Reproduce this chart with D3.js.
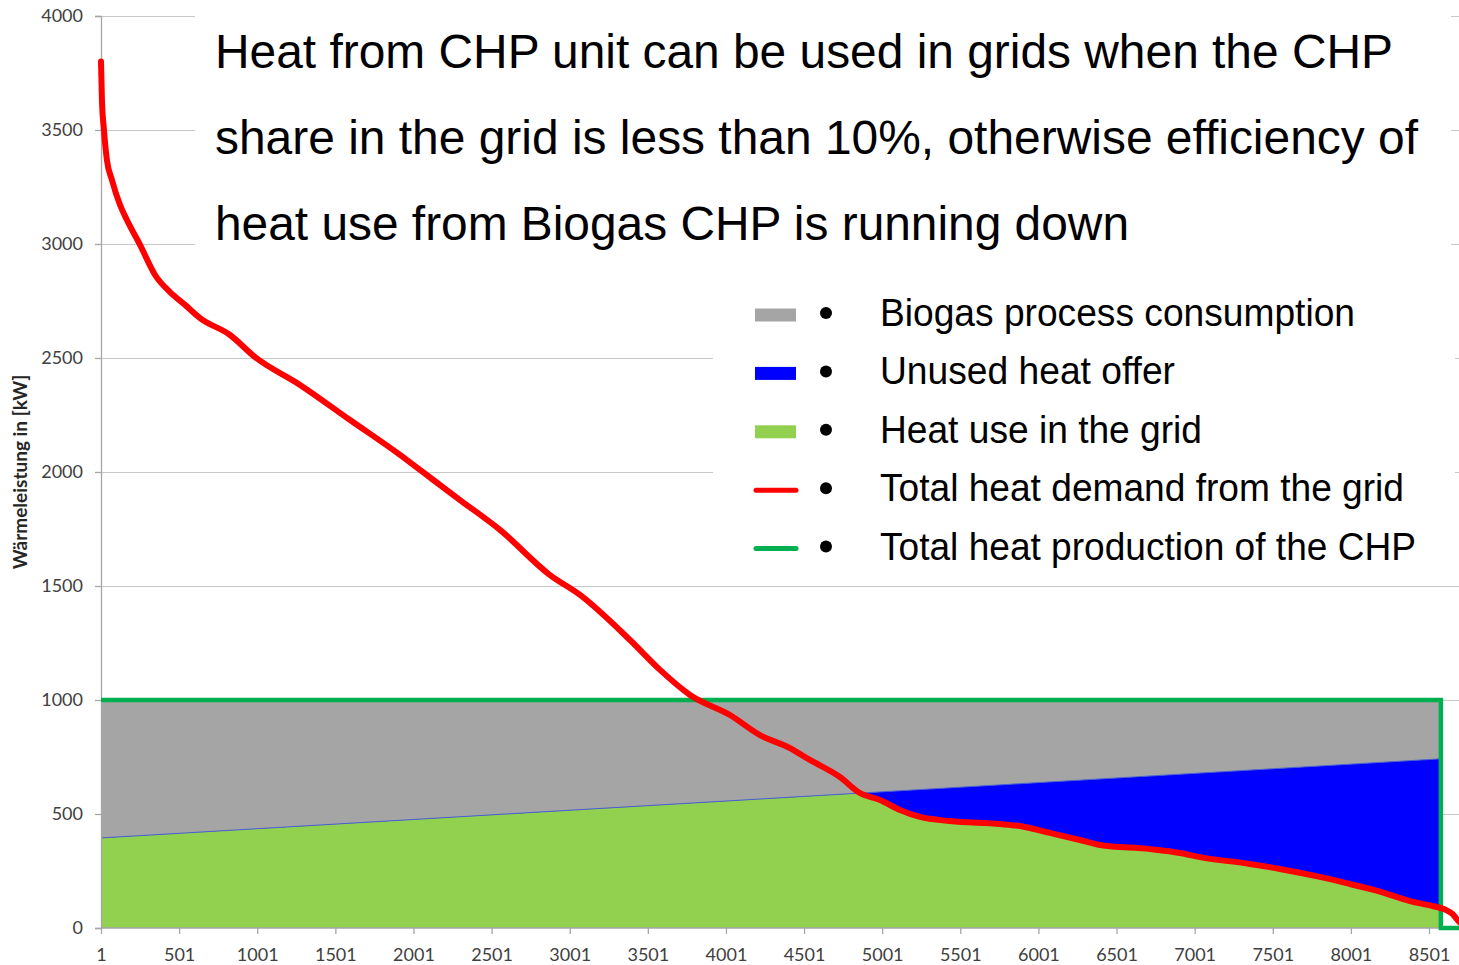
<!DOCTYPE html>
<html>
<head>
<meta charset="utf-8">
<script src="https://cdn.jsdelivr.net/npm/d3@7"></script>
<style>
	body { margin: 0; background: #fff; }
	svg { display: block; }
</style>
</head>
<body>
<div class="chart"></div>
<script>
// hours of the year (sorted load duration) and total heat demand from the grid [kW]
var demandHours = [1, 7, 20, 39, 71, 123, 167, 251, 347, 443, 539, 635, 827, 987, 1275, 1595, 1915, 2043,
	2299, 2555, 2875, 3067, 3387, 3579, 3771, 4027, 4219, 4411, 4539, 4731, 4859, 4987, 5115, 5243,
	5435, 5755, 5883, 6075, 6267, 6395, 6715, 6907, 7035, 7355, 7547, 7803, 7995, 8187, 8379, 8520,
	8600, 8650, 8693, 8740];
var demandKW = [3800, 3632, 3500, 3368, 3281, 3171, 3105, 2996, 2864, 2789, 2733, 2675, 2601, 2504, 2382, 2228, 2075, 2009,
	1877, 1746, 1548, 1461, 1263, 1132, 1022, 934, 846, 789, 737, 662, 592, 561, 518, 487,
	469, 456, 447, 417, 386, 364, 346, 329, 311, 281, 259, 224, 193, 160, 118, 97,
	82, 62, 28, 0];

// total heat production of the CHP [kW]
var chpHours = [1, 8577, 8577, 8760];
var chpKW = [1000, 1000, 0, 0];

// biogas process consumption [kW] (linear over the year)
var processHours = [1, 8577];
var processKW = [605, 258];

var xTicks = [1, 501, 1001, 1501, 2001, 2501, 3001, 3501, 4001, 4501, 5001, 5501, 6001, 6501, 7001, 7501, 8001, 8501];
var yTicks = [0, 500, 1000, 1500, 2000, 2500, 3000, 3500, 4000];

var titleLines = [
	"Heat from CHP unit can be used in grids when the CHP",
	"share in the grid is less than 10%, otherwise efficiency of",
	"heat use from Biogas CHP is running down"
];
var legendLabels = ["Biogas process consumption", "Unused heat offer", "Heat use in the grid",
	"Total heat demand from the grid", "Total heat production of the CHP"];
var legendKinds = ["rect", "rect", "rect", "line", "line"];
var legendColors = ["#a5a5a5", "#0000ff", "#92d050", "#ff0000", "#00b050"];

var W = 1459, H = 965;
var svg = d3.select(".chart").append("svg")
	.attr("width", W)
	.attr("height", H);

var x = d3.scaleLinear().domain([1, 8501]).range([101, 1429]);
var y = d3.scaleLinear().domain([0, 4000]).range([928, 16]);

// gridlines
svg.append("g")
	.attr("transform", "translate(101,0)")
	.call(d3.axisLeft(y).tickValues(yTicks.slice(1)).tickSize(-(W - 101)).tickFormat(""))
	.call(function(g) {
		g.select(".domain").remove();
		g.selectAll("line").attr("stroke", "#c8c8c8").attr("stroke-width", 1.2);
	});

// white boxes behind title and legend
svg.append("rect").attr("x", 195).attr("y", 0).attr("width", 1256).attr("height", 250).attr("fill", "#fff");
svg.append("rect").attr("x", 713).attr("y", 250).attr("width", 742).attr("height", 334).attr("fill", "#fff");

// merged data
var demand = demandHours.map(function(h, i) { return {h: h, v: demandKW[i]}; });
var process = processHours.map(function(h, i) { return {h: h, v: processKW[i]}; });
var chp = chpHours.map(function(h, i) { return {h: h, v: chpKW[i]}; });

// CHP output while running (first two points)
var chpRun = chp.slice(0, 2);
function processAt(h) {
	var t = (h - process[0].h) / (process[1].h - process[0].h);
	return process[0].v + t * (process[1].v - process[0].v);
}

// grey: process consumption between available heat and CHP output
var grey = d3.area()
	.x(function(d) { return x(d.h); })
	.y0(function(d) { return y(1000 - processAt(d.h)); })
	.y1(function(d) { return y(d.v); });
svg.append("path").attr("d", grey(chpRun)).attr("fill", "#a5a5a5");

// blue: available heat offer (0 .. CHP - process)
var avail = d3.area()
	.x(function(d) { return x(d.h); })
	.y0(y(0))
	.y1(function(d) { return y(1000 - d.v); });

svg.append("clipPath").attr("id", "availClip")
	.append("path").attr("d", avail(process));
svg.append("path").attr("d", avail(process)).attr("fill", "#0000ff");

// green: heat used in grid = demand clipped to available heat
var demandArea = d3.area()
	.curve(d3.curveMonotoneX)
	.x(function(d) { return x(d.h); })
	.y0(y(0))
	.y1(function(d) { return y(d.v); });
svg.append("path")
	.attr("d", demandArea(demand))
	.attr("clip-path", "url(#availClip)")
	.attr("fill", "#92d050");

// thin border of the available heat line
svg.append("path")
	.attr("d", d3.line().x(function(d) { return x(d.h); }).y(function(d) { return y(1000 - d.v); })(process))
	.attr("fill", "none")
	.attr("stroke", "#4a5fd0")
	.attr("stroke-width", 1);

// axes
var yAxis = svg.append("g")
	.attr("transform", "translate(101,0)")
	.call(d3.axisLeft(y).tickValues(yTicks).tickSize(6).tickPadding(12).tickFormat(d3.format("d")));
var xAxis = svg.append("g")
	.attr("transform", "translate(0,928)")
	.call(d3.axisBottom(x).tickValues(xTicks).tickSize(6).tickPadding(12).tickFormat(d3.format("d")));
xAxis.select(".domain").attr("d", "M101,0H" + W);
[yAxis, xAxis].forEach(function(g) {
	g.select(".domain").attr("stroke", "#a6a6a6").attr("stroke-width", 1.3);
	g.selectAll(".tick line").attr("stroke", "#a6a6a6").attr("stroke-width", 1.3);
	g.selectAll(".tick text").style("font-family", "Lato, sans-serif").style("font-size", "18px").attr("fill", "#404040");
});
xAxis.selectAll(".tick text").attr("dy", "0.85em");

// CHP production line
var line = d3.line()
	.x(function(d) { return x(d.h); })
	.y(function(d) { return y(d.v); });
svg.append("path")
	.attr("d", line(chp))
	.attr("fill", "none")
	.attr("stroke", "#00b050")
	.attr("stroke-width", 4.5);

// demand line
svg.append("path")
	.attr("d", line.curve(d3.curveMonotoneX)(demand))
	.attr("fill", "none")
	.attr("stroke", "#ff0000")
	.attr("stroke-width", 6)
	.attr("stroke-linejoin", "round")
	.attr("stroke-linecap", "round");

// y label
svg.append("text")
	.attr("transform", "translate(27,472) rotate(-90)")
	.attr("text-anchor", "middle")
	.style("font-family", "Lato, sans-serif")
	.style("font-weight", "bold")
	.style("font-size", "19px")
	.attr("fill", "#262626")
	.text("Wärmeleistung in [kW]");

// title
var titleWidths = [1178, 1203, 914];
svg.selectAll(".title").data(titleLines).enter().append("text")
	.attr("class", "title")
	.attr("x", 215)
	.attr("y", function(d, i) { return 68 + i * 86; })
	.attr("textLength", function(d, i) { return titleWidths[i]; })
	.attr("lengthAdjust", "spacingAndGlyphs")
	.style("font-family", "'Liberation Sans', Arial, sans-serif")
	.style("font-size", "48px")
	.attr("fill", "#000")
	.text(function(d) { return d; });

// legend
var legendWidths = [475, 295, 322, 524, 536];
var leg = svg.selectAll(".leg").data(legendLabels).enter().append("g")
	.attr("class", "leg")
	.attr("transform", function(d, i) { return "translate(0," + (315 + i * 58.4) + ")"; });
leg.each(function(d, i) {
	var g = d3.select(this);
	if (legendKinds[i] === "rect") {
		g.append("rect").attr("x", 755).attr("y", -6.5).attr("width", 41).attr("height", 13).attr("fill", legendColors[i]);
	} else {
		g.append("line").attr("x1", 756).attr("x2", 796).attr("y1", 0).attr("y2", 0)
			.attr("stroke", legendColors[i]).attr("stroke-width", 5).attr("stroke-linecap", "round");
	}
	g.append("circle").attr("cx", 826).attr("cy", -2).attr("r", 6).attr("fill", "#000");
	g.append("text")
		.attr("x", 880)
		.attr("y", 11)
		.attr("textLength", legendWidths[i])
		.attr("lengthAdjust", "spacingAndGlyphs")
		.style("font-family", "'Liberation Sans', Arial, sans-serif")
		.style("font-size", "38px")
		.attr("fill", "#000")
		.text(d);
});
</script>
</body>
</html>
